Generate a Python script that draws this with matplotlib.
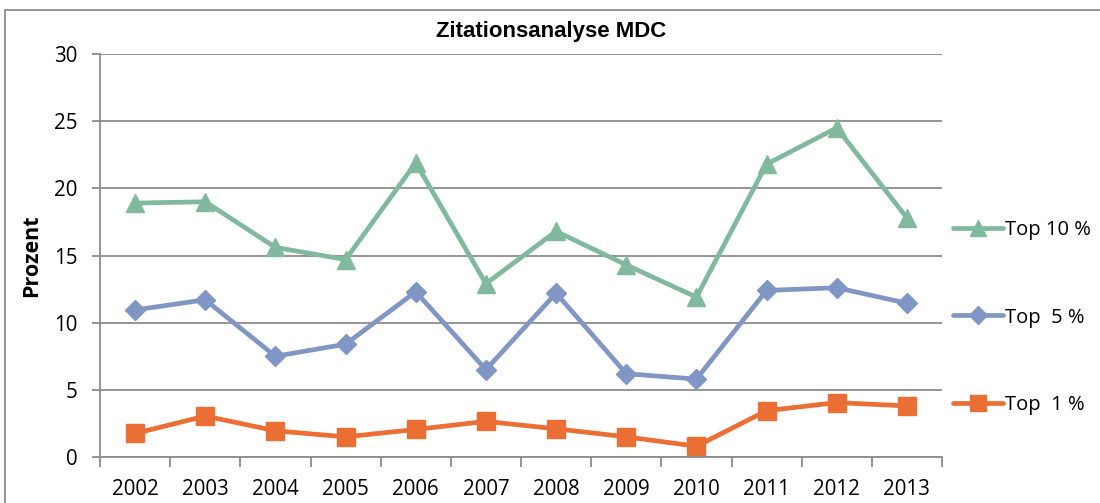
import matplotlib
matplotlib.use("Agg")
import matplotlib.pyplot as plt
from matplotlib.patches import Rectangle

years = ["2002", "2003", "2004", "2005", "2006", "2007", "2008", "2009", "2010", "2011", "2012", "2013"]
top10 = [18.9, 19.0, 15.6, 14.7, 21.9, 12.9, 16.8, 14.3, 11.9, 21.8, 24.5, 17.8]
top5 = [10.95, 11.7, 7.5, 8.4, 12.3, 6.5, 12.2, 6.2, 5.8, 12.4, 12.6, 11.45]
top1 = [1.75, 3.05, 1.95, 1.5, 2.05, 2.65, 2.1, 1.5, 0.8, 3.45, 4.05, 3.8]
labels = ["Top 10 %", "Top  5 %", "Top  1 %"]
yticks = [0, 5, 10, 15, 20, 25, 30]

c_green = "#80B99E"
c_blue = "#8096C4"
c_orange = "#EB6E34"
grid_c = "#8C8C8C"

plt.rcParams['font.family'] = ['Open Sans', 'DejaVu Sans']

W, H = 1100, 503
fig = plt.figure(figsize=(W / 100, H / 100), dpi=100)
ax = fig.add_axes([100 / W, 1 - 457 / H, 842 / W, (457 - 54) / H])

x = list(range(len(years)))
l1, = ax.plot(x, top10, color=c_green, lw=3.4, marker="^", ms=13, label=labels[0], solid_capstyle="round")
l2, = ax.plot(x, top5, color=c_blue, lw=3.4, marker="D", ms=10, label=labels[1], solid_capstyle="round")
l3, = ax.plot(x, top1, color=c_orange, lw=3.4, marker="s", ms=12.5, label=labels[2], solid_capstyle="round")

ax.set_xlim(-0.5, len(years) - 0.5)
ax.set_ylim(0, 30)
ax.set_yticks(yticks)
ax.set_yticklabels([str(v) for v in yticks], fontsize=14.8)
ax.yaxis.grid(True, color=grid_c, lw=1.3)
ax.set_axisbelow(True)

ax.set_xticks(x)
ax.set_xticklabels(years, fontsize=14.8)
ax.tick_params(axis="x", which="major", length=0, pad=16)
ax.set_xticks([i - 0.5 for i in range(len(years) + 1)], minor=True)
ax.tick_params(axis="x", which="minor", length=7, width=1.3, color=grid_c, direction="out")
ax.tick_params(axis="y", length=6, width=1.3, color=grid_c, pad=10)

for s in ["top", "right"]:
    ax.spines[s].set_visible(False)
for s in ["left", "bottom"]:
    ax.spines[s].set_color(grid_c)
    ax.spines[s].set_linewidth(1.3)

ax.set_ylabel("Prozent", fontsize=15.5, fontweight="bold", labelpad=9)
fig.text(551 / W, 1 - 31 / H, "Zitationsanalyse MDC", fontsize=16, fontweight="bold",
         family=["Liberation Sans", "DejaVu Sans"], ha="center", va="center")

leg = fig.legend(handles=[l1, l2, l3], loc="upper left",
                 bbox_to_anchor=(943 / W, 1 - 210 / H), frameon=False,
                 fontsize=14.5, handlelength=2.5, handletextpad=0.1,
                 labelspacing=3.35, borderpad=0, markerscale=0.9)

fig.patches.append(Rectangle((5 / W, -0.1), 1.2, 1 - 10 / H + 0.1,
                             transform=fig.transFigure, fill=False,
                             edgecolor="#8C8C8C", lw=1.3))

fig.savefig("out.png", dpi=100)
